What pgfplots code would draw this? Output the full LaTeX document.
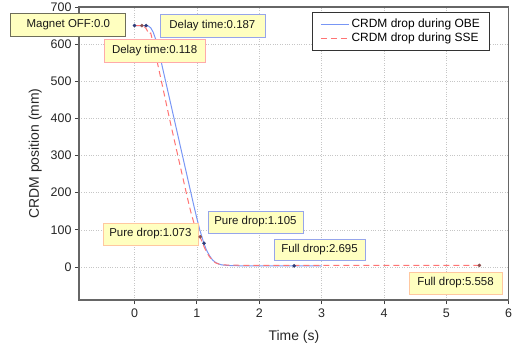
\documentclass[border=0pt]{standalone}
\usepackage{pgfplots}
\pgfplotsset{compat=1.18}
\usepackage{fontspec}
\setmainfont{Liberation Sans}
\definecolor{obe}{RGB}{120,150,245}
\definecolor{sse}{RGB}{255,115,115}
\definecolor{obem}{RGB}{45,60,120}
\definecolor{ssem}{RGB}{140,80,80}
\definecolor{boxfill}{RGB}{255,255,192}
\definecolor{bblue}{RGB}{150,165,235}
\definecolor{bred}{RGB}{255,170,170}
\definecolor{borange}{RGB}{255,200,160}
\definecolor{bgray}{RGB}{110,110,90}
\begin{document}
\begin{tikzpicture}
\useasboundingbox (-79bp,-51bp) rectangle (438bp,300bp);
\begin{axis}[
  scale only axis,
  width=429.7bp, height=293bp,
  xmin=-0.89, xmax=6, ymin=-89, ymax=700,
  xtick={0,1,2,3,4,5,6},
  ytick={0,100,200,300,400,500,600,700},
  tick pos=left, tick align=outside,
  major tick length=4bp,
  tick style={black!75, line width=0.9pt},
  axis line style={black!60, line width=1.1pt},
  grid=major,
  major grid style={gray!45, dotted, line width=0.6pt},
  /pgf/number format/assume math mode=true,
  ticklabel style={font=\fontsize{12.5}{14}\selectfont, text=black!85},
  xticklabel style={yshift=-1bp},
  xlabel={Time (s)}, ylabel={CRDM position (mm)},
  label style={font=\fontsize{14}{16}\selectfont, text=black!85},
  xlabel style={yshift=-6bp},
  ylabel style={yshift=2bp},
  clip=false,
  legend style={at={(0.957,0.984)}, anchor=north east, draw=black!80, line width=0.8pt,
    font=\fontsize{12}{14}\selectfont, inner xsep=8bp, inner ysep=5bp, row sep=0bp},
  legend cell align=left,
  legend image code/.code={\draw[#1] (0cm,0cm) -- (1.0cm,0cm);},
]
\addplot[obe, line width=1pt] coordinates {
(0,650) (0.187,650) (0.22,649) (0.26,644) (0.30,632) (0.35,608) (0.40,573)
(0.45,536) (0.50,499) (0.55,462) (0.60,425) (0.65,388) (0.70,351) (0.75,314)
(0.80,277) (0.85,240) (0.90,203) (0.95,166) (1.00,131) (1.05,98) (1.105,68)
(1.15,47) (1.20,31) (1.25,19) (1.30,12) (1.35,8) (1.40,5.5) (1.50,4)
(1.70,3) (2.00,3) (2.56,3) (3.00,3)};
\addlegendentry{CRDM drop during OBE}
\addplot[sse, line width=1pt, dash pattern=on 6bp off 4bp] coordinates {
(0,650) (0.118,650) (0.15,648) (0.19,641) (0.23,627) (0.26,630) (0.30,602)
(0.38,540) (0.46,478) (0.55,408) (0.60,370) (0.65,333) (0.70,296) (0.75,259)
(0.80,222) (0.85,185) (0.90,150) (0.95,120) (1.00,98) (1.055,80) (1.10,60)
(1.15,42) (1.20,28) (1.25,18) (1.30,11) (1.35,8) (1.40,6) (1.50,5)
(1.70,4.5) (3.00,4) (5.558,4)};
\addlegendentry{CRDM drop during SSE}
\addplot[only marks, mark=*, mark size=1.6bp, ssem, forget plot] coordinates {
(0.118,650) (1.054,81) (5.53,4)};
\addplot[only marks, mark=*, mark size=1.6bp, obem, forget plot] coordinates {
(0,650) (0.187,650) (1.115,64) (2.56,3)};
\tikzset{ann/.style={draw, fill=boxfill, line width=0.8pt, inner sep=0pt,
  minimum height=23bp, font=\fontsize{11.5}{13}\selectfont, text=black!90, anchor=center}}
\node[ann, draw=bgray, minimum width=115bp] at (axis cs:-1.060,652.9) {Magnet OFF:0.0};
\node[ann, draw=bblue, minimum width=105bp] at (axis cs:1.249,648.8) {Delay time:0.187};
\node[ann, draw=bred, minimum width=101bp] at (axis cs:0.322,582.9) {Delay time:0.118};
\node[ann, draw=borange, minimum width=95bp, minimum height=22bp] at (axis cs:0.255,88.8) {Pure drop:1.073};
\node[ann, draw=bblue, minimum width=95bp, minimum height=22bp] at (axis cs:1.939,121.2) {Pure drop:1.105};
\node[ann, draw=bblue, minimum width=91bp, minimum height=21bp] at (axis cs:2.966,47.1) {Full drop:2.695};
\node[ann, draw=borange, minimum width=93bp, minimum height=22bp] at (axis cs:5.147,-43.1) {Full drop:5.558};
\end{axis}
\end{tikzpicture}
\end{document}
